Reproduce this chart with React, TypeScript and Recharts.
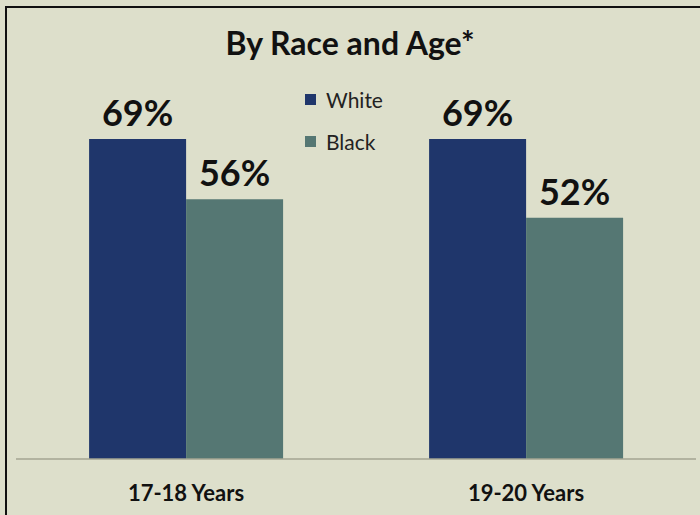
import React from 'react';
import { BarChart, Bar, XAxis, YAxis, Legend, LabelList } from 'recharts';

const categories = ['17-18 Years', '19-20 Years'];
const seriesNames = ['White', 'Black'];
const whiteValues = [69, 69];
const blackValues = [56, 52];

const WHITE_COLOR = '#1f366b';
const BLACK_COLOR = '#557773';
const BG = '#dddfcb';
const FONT = 'Lato, "Open Sans", sans-serif';

const data = categories.map((name, i) => ({
  name,
  White: whiteValues[i],
  Black: blackValues[i],
}));

const LegendBox = (props: any) => {
  const payload = [...(props.payload || [])].sort(
    (a: any, b: any) => seriesNames.indexOf(a.value) - seriesNames.indexOf(b.value)
  );
  return (
    <div style={{ fontFamily: FONT }}>
      {payload.map((entry: any) => (
        <div key={entry.value} style={{ display: 'flex', alignItems: 'center', height: 42 }}>
          <span style={{ width: 11, height: 11, background: entry.color, marginRight: 10 }} />
          <span style={{ fontSize: 21, color: '#222' }}>{entry.value}</span>
        </div>
      ))}
    </div>
  );
};

const Tick = (props: any) => {
  const { x, y, payload } = props;
  return (
    <text x={x} y={y} dy={34} textAnchor="middle" fontFamily={FONT} fontWeight={700} fontSize={22} fill="#111">
      {payload.value}
    </text>
  );
};

const labelStyle = { fontFamily: FONT, fontWeight: 700, fontSize: 36, fill: '#111' };

const App: React.FC = () => {
  return (
    <div style={{ position: 'fixed', left: 0, top: 0, width: 700, height: 515, background: BG, overflow: 'hidden' }}>
      <div
        style={{
          position: 'absolute',
          left: 5,
          top: 6,
          width: 800,
          height: 600,
          borderTop: '2.5px solid #111',
          borderLeft: '2.5px solid #111',
        }}
      />
      <div
        style={{
          position: 'absolute',
          top: 23,
          left: 0,
          width: 700,
          textAlign: 'center',
          fontFamily: FONT,
          fontWeight: 700,
          fontSize: 32,
          color: '#111',
        }}
      >
        By Race and Age*
      </div>
      <BarChart
        width={700}
        height={515}
        data={data}
        margin={{ top: 88, right: 4, left: 16, bottom: 0 }}
        barCategoryGap="21.5%"
        barGap={0}
        style={{ position: 'absolute', left: 0, top: 0 }}
      >
        <XAxis
          dataKey="name"
          height={56}
          tickLine={false}
          axisLine={{ stroke: '#a3a592', strokeWidth: 1.5 }}
          tick={<Tick />}
          interval={0}
        />
        <YAxis hide domain={[0, 80]} />
        <Legend
          layout="vertical"
          verticalAlign="middle"
          align="center"
          content={<LegendBox />}
          wrapperStyle={{ position: 'absolute', left: 305, top: 78, width: 120 }}
        />
        <Bar dataKey="White" fill={WHITE_COLOR} isAnimationActive={false}>
          <LabelList dataKey="White" position="top" offset={13} formatter={(v: any) => `${v}%`} style={labelStyle} />
        </Bar>
        <Bar dataKey="Black" fill={BLACK_COLOR} isAnimationActive={false}>
          <LabelList dataKey="Black" position="top" offset={13} formatter={(v: any) => `${v}%`} style={labelStyle} />
        </Bar>
      </BarChart>
    </div>
  );
};

export default App;
